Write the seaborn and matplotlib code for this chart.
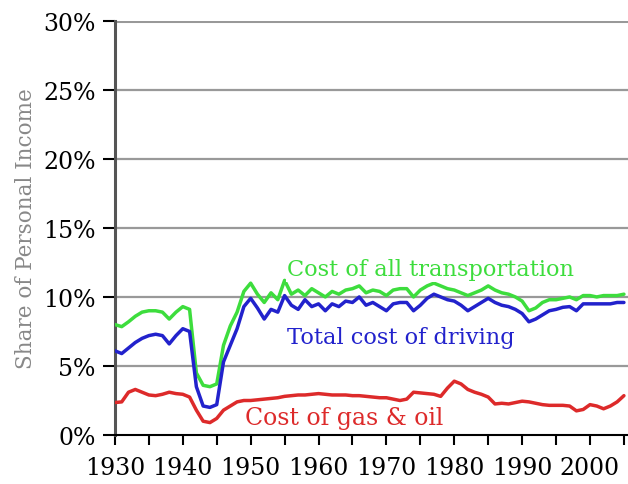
import matplotlib
matplotlib.use("Agg")
import matplotlib.pyplot as plt
import seaborn as sns
import pandas as pd
from matplotlib.ticker import MultipleLocator, FuncFormatter

years = list(range(1930, 2006))

all_transport = [
    8.0, 7.85, 8.2, 8.6, 8.9, 9.0, 9.0, 8.9, 8.4, 8.9,
    9.3, 9.1, 4.5, 3.6, 3.5, 3.7, 6.5, 7.9, 8.9, 10.4,
    11.0, 10.2, 9.6, 10.3, 9.8, 11.2, 10.2, 10.5, 10.1, 10.6,
    10.3, 10.0, 10.4, 10.2, 10.5, 10.6, 10.8, 10.3, 10.5, 10.4,
    10.1, 10.5, 10.6, 10.6, 10.0, 10.5, 10.8, 11.0, 10.8, 10.6,
    10.5, 10.3, 10.1, 10.3, 10.5, 10.8, 10.5, 10.3, 10.2, 10.0,
    9.7, 9.0, 9.2, 9.6, 9.8, 9.8, 9.9, 10.0, 9.8, 10.1,
    10.1, 10.0, 10.1, 10.1, 10.1, 10.2,
]
driving = [
    6.1, 5.9, 6.3, 6.7, 7.0, 7.2, 7.3, 7.2, 6.6, 7.2,
    7.7, 7.5, 3.5, 2.1, 2.0, 2.2, 5.3, 6.5, 7.7, 9.3,
    9.9, 9.2, 8.4, 9.1, 8.9, 10.1, 9.4, 9.1, 9.8, 9.3,
    9.5, 9.0, 9.5, 9.3, 9.7, 9.6, 10.0, 9.4, 9.6, 9.3,
    9.0, 9.5, 9.6, 9.6, 9.0, 9.4, 9.9, 10.2, 10.0, 9.8,
    9.7, 9.4, 9.0, 9.3, 9.6, 9.9, 9.6, 9.4, 9.3, 9.1,
    8.8, 8.2, 8.4, 8.7, 9.0, 9.1, 9.25, 9.3, 9.0, 9.5,
    9.5, 9.5, 9.5, 9.5, 9.6, 9.6,
]
gas_oil = [
    2.35, 2.4, 3.1, 3.3, 3.1, 2.9, 2.85, 2.95, 3.1, 3.0,
    2.95, 2.75, 1.8, 1.0, 0.9, 1.2, 1.8, 2.1, 2.4, 2.5,
    2.5, 2.55, 2.6, 2.65, 2.7, 2.8, 2.85, 2.9, 2.9, 2.95,
    3.0, 2.95, 2.9, 2.9, 2.9, 2.85, 2.85, 2.8, 2.75, 2.7,
    2.7, 2.6, 2.5, 2.6, 3.1, 3.05, 3.0, 2.95, 2.8, 3.4,
    3.9, 3.7, 3.3, 3.1, 2.95, 2.75, 2.25, 2.3, 2.25, 2.35,
    2.45, 2.4, 2.3, 2.2, 2.15, 2.15, 2.15, 2.1, 1.75, 1.85,
    2.2, 2.1, 1.9, 2.1, 2.4, 2.85,
]

series_names = ["Cost of all transportation", "Total cost of driving", "Cost of gas & oil"]
colors = ["#3ddd3d", "#2222cc", "#dd2a2a"]

df = pd.concat([
    pd.DataFrame({"year": years, "share": all_transport, "series": series_names[0]}),
    pd.DataFrame({"year": years, "share": driving, "series": series_names[1]}),
    pd.DataFrame({"year": years, "share": gas_oil, "series": series_names[2]}),
])

sns.set_style("white")
plt.rcParams["font.family"] = ["DejaVu Serif"]

fig = plt.figure(figsize=(6.28, 4.85), dpi=100)
ax = fig.add_axes([0.183, 0.101, 0.817, 0.854])

for y in range(5, 35, 5):
    ax.axhline(y, color="#999999", lw=1.6 if y < 30 else 2.2, zorder=0)

sns.lineplot(data=df, x="year", y="share", hue="series", hue_order=series_names,
             palette=colors, lw=2.5, legend=False, ax=ax, zorder=3)

ax.set_xlim(1930, 2005.6)
ax.set_ylim(0, 30)
ax.xaxis.set_major_locator(MultipleLocator(5))
ax.xaxis.set_major_formatter(FuncFormatter(lambda v, p: f"{int(v)}" if int(v) % 10 == 0 else ""))
ax.yaxis.set_major_locator(MultipleLocator(5))
ax.yaxis.set_major_formatter(FuncFormatter(lambda v, p: f"{int(v)}%"))
ax.tick_params(axis="both", labelsize=17, direction="out", length=7, width=1.5,
               colors="black", bottom=True, left=True, pad=8)
ax.tick_params(axis="y", length=9, pad=5)

sns.despine(ax=ax, top=True, right=True)
ax.spines["left"].set_color("#555555")
ax.spines["left"].set_linewidth(2.2)
ax.spines["bottom"].set_color("black")
ax.spines["bottom"].set_linewidth(1.5)

ax.set_xlabel("")
ax.set_ylabel("Share of Personal Income", fontsize=15.5, color="#888888", labelpad=4)

label_pos = [(1955.4, 12.0), (1955.4, 7.1), (1949.2, 1.3)]
label_sizes = [16.2, 16.2, 17]
for name, c, (lx, ly), fs in zip(series_names, colors, label_pos, label_sizes):
    ax.text(lx, ly, name, color=c, fontsize=fs, va="center", ha="left", zorder=4,
            bbox=dict(facecolor="white", edgecolor="none", pad=1))

fig.savefig("out.png", dpi=100)
